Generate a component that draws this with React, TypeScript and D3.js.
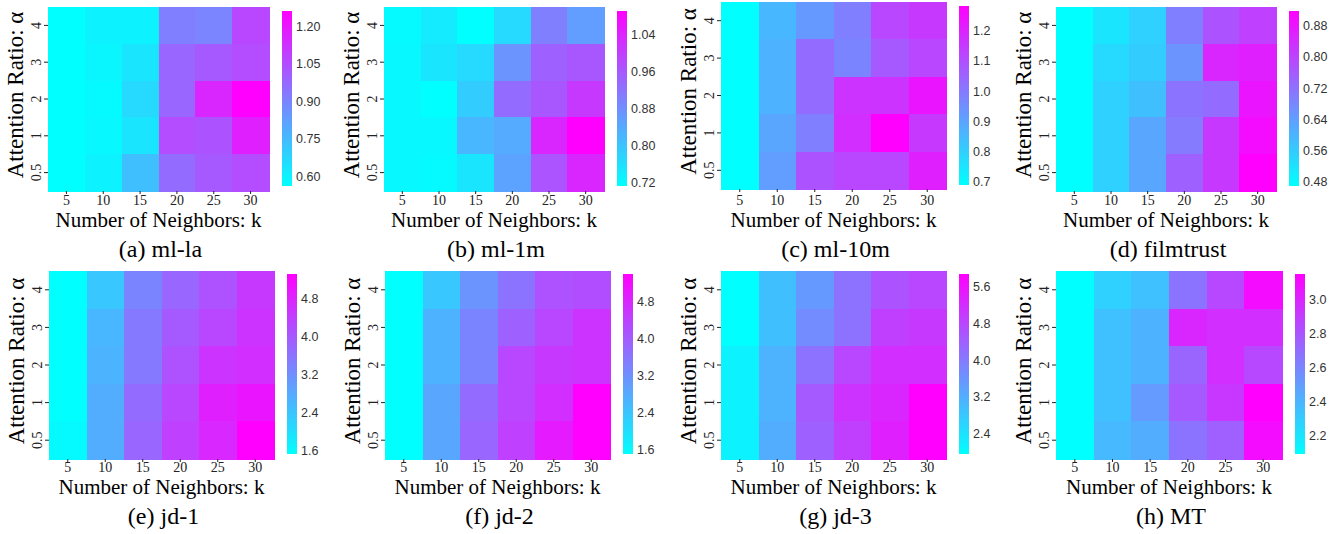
import React from 'react'
import * as d3 from 'd3'

const kValues = [5, 10, 15, 20, 25, 30]
const alphaValues = ['4', '3', '2', '1', '0.5']

// rows: alpha = 4, 3, 2, 1, 0.5 (top to bottom), cols: k = 5 .. 30
const mlLa = [
  [0.565, 0.60, 0.60, 0.915, 0.90, 1.07],
  [0.565, 0.59, 0.635, 0.985, 1.02, 1.055],
  [0.565, 0.58, 0.67, 0.985, 1.16, 1.265],
  [0.565, 0.585, 0.635, 1.055, 1.04, 1.18],
  [0.565, 0.60, 0.74, 0.97, 1.02, 1.055],
]
const ml1m = [
  [0.724, 0.746, 0.716, 0.773, 0.905, 0.86],
  [0.727, 0.754, 0.773, 0.875, 0.95, 0.965],
  [0.727, 0.716, 0.792, 0.935, 0.965, 1.011],
  [0.727, 0.727, 0.822, 0.841, 1.037, 1.094],
  [0.727, 0.724, 0.754, 0.852, 0.969, 1.037],
]
const ml10m = [
  [0.693, 0.859, 0.93, 0.99, 1.12, 1.156],
  [0.693, 0.871, 1.037, 0.978, 1.078, 1.12],
  [0.693, 0.871, 1.037, 1.167, 1.167, 1.239],
  [0.693, 0.901, 0.99, 1.179, 1.286, 1.156],
  [0.693, 0.918, 1.096, 1.12, 1.12, 1.215],
]
const filmtrust = [
  [0.472, 0.517, 0.553, 0.697, 0.777, 0.809],
  [0.472, 0.539, 0.562, 0.661, 0.854, 0.867],
  [0.472, 0.553, 0.584, 0.719, 0.732, 0.885],
  [0.472, 0.553, 0.629, 0.705, 0.822, 0.899],
  [0.472, 0.553, 0.629, 0.75, 0.822, 0.921],
]
const jd1 = [
  [1.543, 2.38, 3.37, 3.82, 4.13, 4.51],
  [1.543, 2.61, 3.52, 4.01, 4.28, 4.58],
  [1.543, 2.68, 3.52, 4.13, 4.58, 4.66],
  [1.543, 2.76, 3.75, 4.28, 4.89, 5.04],
  [1.62, 2.76, 3.82, 4.39, 4.77, 5.345],
]
const jd2 = [
  [1.53, 2.39, 3.16, 3.67, 4.18, 4.25],
  [1.53, 2.7, 3.4, 3.94, 4.33, 4.64],
  [1.53, 2.7, 3.4, 4.33, 4.56, 4.64],
  [1.53, 2.89, 3.79, 4.33, 4.72, 5.42],
  [1.53, 2.89, 3.86, 4.45, 5.03, 5.4],
]
const jd3 = [
  [1.99, 2.97, 3.55, 4.14, 4.64, 4.8],
  [1.99, 2.97, 3.75, 4.14, 4.92, 5.03],
  [2.19, 3.16, 4.14, 4.8, 5.19, 5.19],
  [2.19, 3.16, 4.52, 5.11, 5.31, 5.89],
  [2.19, 3.24, 4.41, 4.92, 5.42, 5.89],
]
const mt = [
  [2.097, 2.29, 2.36, 2.68, 2.86, 3.11],
  [2.097, 2.36, 2.42, 3.0, 2.97, 2.97],
  [2.097, 2.36, 2.42, 2.74, 2.97, 2.86],
  [2.097, 2.36, 2.52, 2.79, 2.93, 3.16],
  [2.097, 2.39, 2.44, 2.68, 2.76, 3.11],
]

const datasets = [mlLa, ml1m, ml10m, filmtrust, jd1, jd2, jd3, mt]
const titles = ['(a)', '(b)', '(c)', '(d)', '(e)', '(f)', '(g)', '(h)']
const names = ['ml-la', 'ml-1m', 'ml-10m', 'filmtrust', 'jd-1', 'jd-2', 'jd-3', 'MT']
const cbTicks = [
  [0.6, 0.75, 0.9, 1.05, 1.2],
  [0.72, 0.8, 0.88, 0.96, 1.04],
  [0.7, 0.8, 0.9, 1.0, 1.1, 1.2],
  [0.48, 0.56, 0.64, 0.72, 0.8, 0.88],
  [1.6, 2.4, 3.2, 4.0, 4.8],
  [1.6, 2.4, 3.2, 4.0, 4.8],
  [2.4, 3.2, 4.0, 4.8, 5.6],
  [2.2, 2.4, 2.6, 2.8, 3.0],
]
const cbFormats = ['.2f', '.2f', '.1f', '.2f', '.1f', '.1f', '.1f', '.1f']

// panel boxes (heatmap + colorbar)
const layout = [
  { x: 48, y: 7, w: 221, h: 184, cbY: 11, cbH: 175 },
  { x: 384, y: 7, w: 220, h: 184, cbY: 11, cbH: 175 },
  { x: 721, y: 2, w: 225, h: 187, cbY: 6, cbH: 179 },
  { x: 1056, y: 7, w: 220, h: 184, cbY: 11, cbH: 175 },
  { x: 49, y: 271, w: 225, h: 188, cbY: 274, cbH: 180 },
  { x: 385, y: 271, w: 225, h: 188, cbY: 274, cbH: 180 },
  { x: 721, y: 271, w: 225, h: 188, cbY: 274, cbH: 180 },
  { x: 1056, y: 271, w: 226, h: 188, cbY: 274, cbH: 180 },
]
const rowText = [
  { tick: 205, xlab: 227, cap: 257 },
  { tick: 472, xlab: 494, cap: 524 },
]

const serif = '"Liberation Serif", "Times New Roman", serif'
const sans = '"Liberation Sans", Arial, sans-serif'

// matplotlib "cool"
const cool = (t: number) => d3.rgb(255 * t, 255 * (1 - t), 255).toString()

function Heatmap({ idx }: { idx: number }) {
  const data = datasets[idx]
  const box = layout[idx]
  const rt = rowText[idx < 4 ? 0 : 1]
  const [lo, hi] = d3.extent(data.flat()) as [number, number]
  const color = d3.scaleSequential(cool).domain([lo, hi])
  const x = d3.scaleBand().domain(kValues.map(String)).range([box.x, box.x + box.w])
  const y = d3.scaleBand().domain(alphaValues).range([box.y, box.y + box.h])
  const cb = d3.scaleLinear().domain([lo, hi]).range([box.cbY + box.cbH, box.cbY])
  const cbX = box.x + box.w + 13
  const fmt = d3.format(cbFormats[idx])
  const cx = box.x + box.w / 2
  const cy = box.y + box.h / 2 - 4
  const gid = 'cb' + idx

  return (
    <g>
      <defs>
        <linearGradient id={gid} x1="0" y1="1" x2="0" y2="0">
          <stop offset="0" stopColor={cool(0)} />
          <stop offset="1" stopColor={cool(1)} />
        </linearGradient>
      </defs>
      {data.map((row, r) =>
        row.map((v, c) => (
          <rect
            key={r + '-' + c}
            x={x(String(kValues[c]))}
            y={y(alphaValues[r])}
            width={x.bandwidth() + 0.5}
            height={y.bandwidth() + 0.5}
            fill={color(v)}
            shapeRendering="crispEdges"
          />
        ))
      )}
      {kValues.map((k) => {
        const px = (x(String(k)) as number) + x.bandwidth() / 2
        return (
          <g key={k}>
            <line x1={px} x2={px} y1={box.y + box.h} y2={box.y + box.h + 3} stroke="#222" />
            <text x={px} y={rt.tick} textAnchor="middle" fontFamily={serif} fontSize={14} fill="#222">
              {k}
            </text>
          </g>
        )
      })}
      {alphaValues.map((a) => {
        const py = (y(a) as number) + y.bandwidth() / 2
        return (
          <g key={a}>
            <line x1={box.x - 4} x2={box.x} y1={py} y2={py} stroke="#222" />
            <text
              x={box.x - 7}
              y={py}
              transform={`rotate(-90, ${box.x - 7}, ${py})`}
              textAnchor="middle"
              fontFamily={serif}
              fontSize={14}
              fill="#222"
            >
              {a}
            </text>
          </g>
        )
      })}
      <text
        x={box.x - 25}
        y={cy}
        transform={`rotate(-90, ${box.x - 25}, ${cy})`}
        textAnchor="middle"
        fontFamily={serif}
        fontSize={23}
      >
        Attention Ratio: α
      </text>
      <text x={cx} y={rt.xlab} textAnchor="middle" fontFamily={serif} fontSize={21}>
        Number of Neighbors: k
      </text>
      <text x={cx + 2} y={rt.cap} textAnchor="middle" fontFamily={serif} fontSize={24}>
        {titles[idx] + '\u00a0' + names[idx]}
      </text>
      <rect x={cbX} y={box.cbY} width={10} height={box.cbH} fill={`url(#${gid})`} />
      {cbTicks[idx].map((t) => (
        <text
          key={t}
          x={cbX + 14}
          y={cb(t)}
          dominantBaseline="middle"
          fontFamily={sans}
          fontSize={12.5}
          fill="#333"
        >
          {fmt(t)}
        </text>
      ))}
    </g>
  )
}

export default function App() {
  return (
    <div style={{ position: 'absolute', left: 0, top: 0 }}>
      <svg width={1340} height={534} style={{ display: 'block', background: '#fff' }}>
        {datasets.map((_, i) => (
          <Heatmap key={i} idx={i} />
        ))}
      </svg>
    </div>
  )
}
